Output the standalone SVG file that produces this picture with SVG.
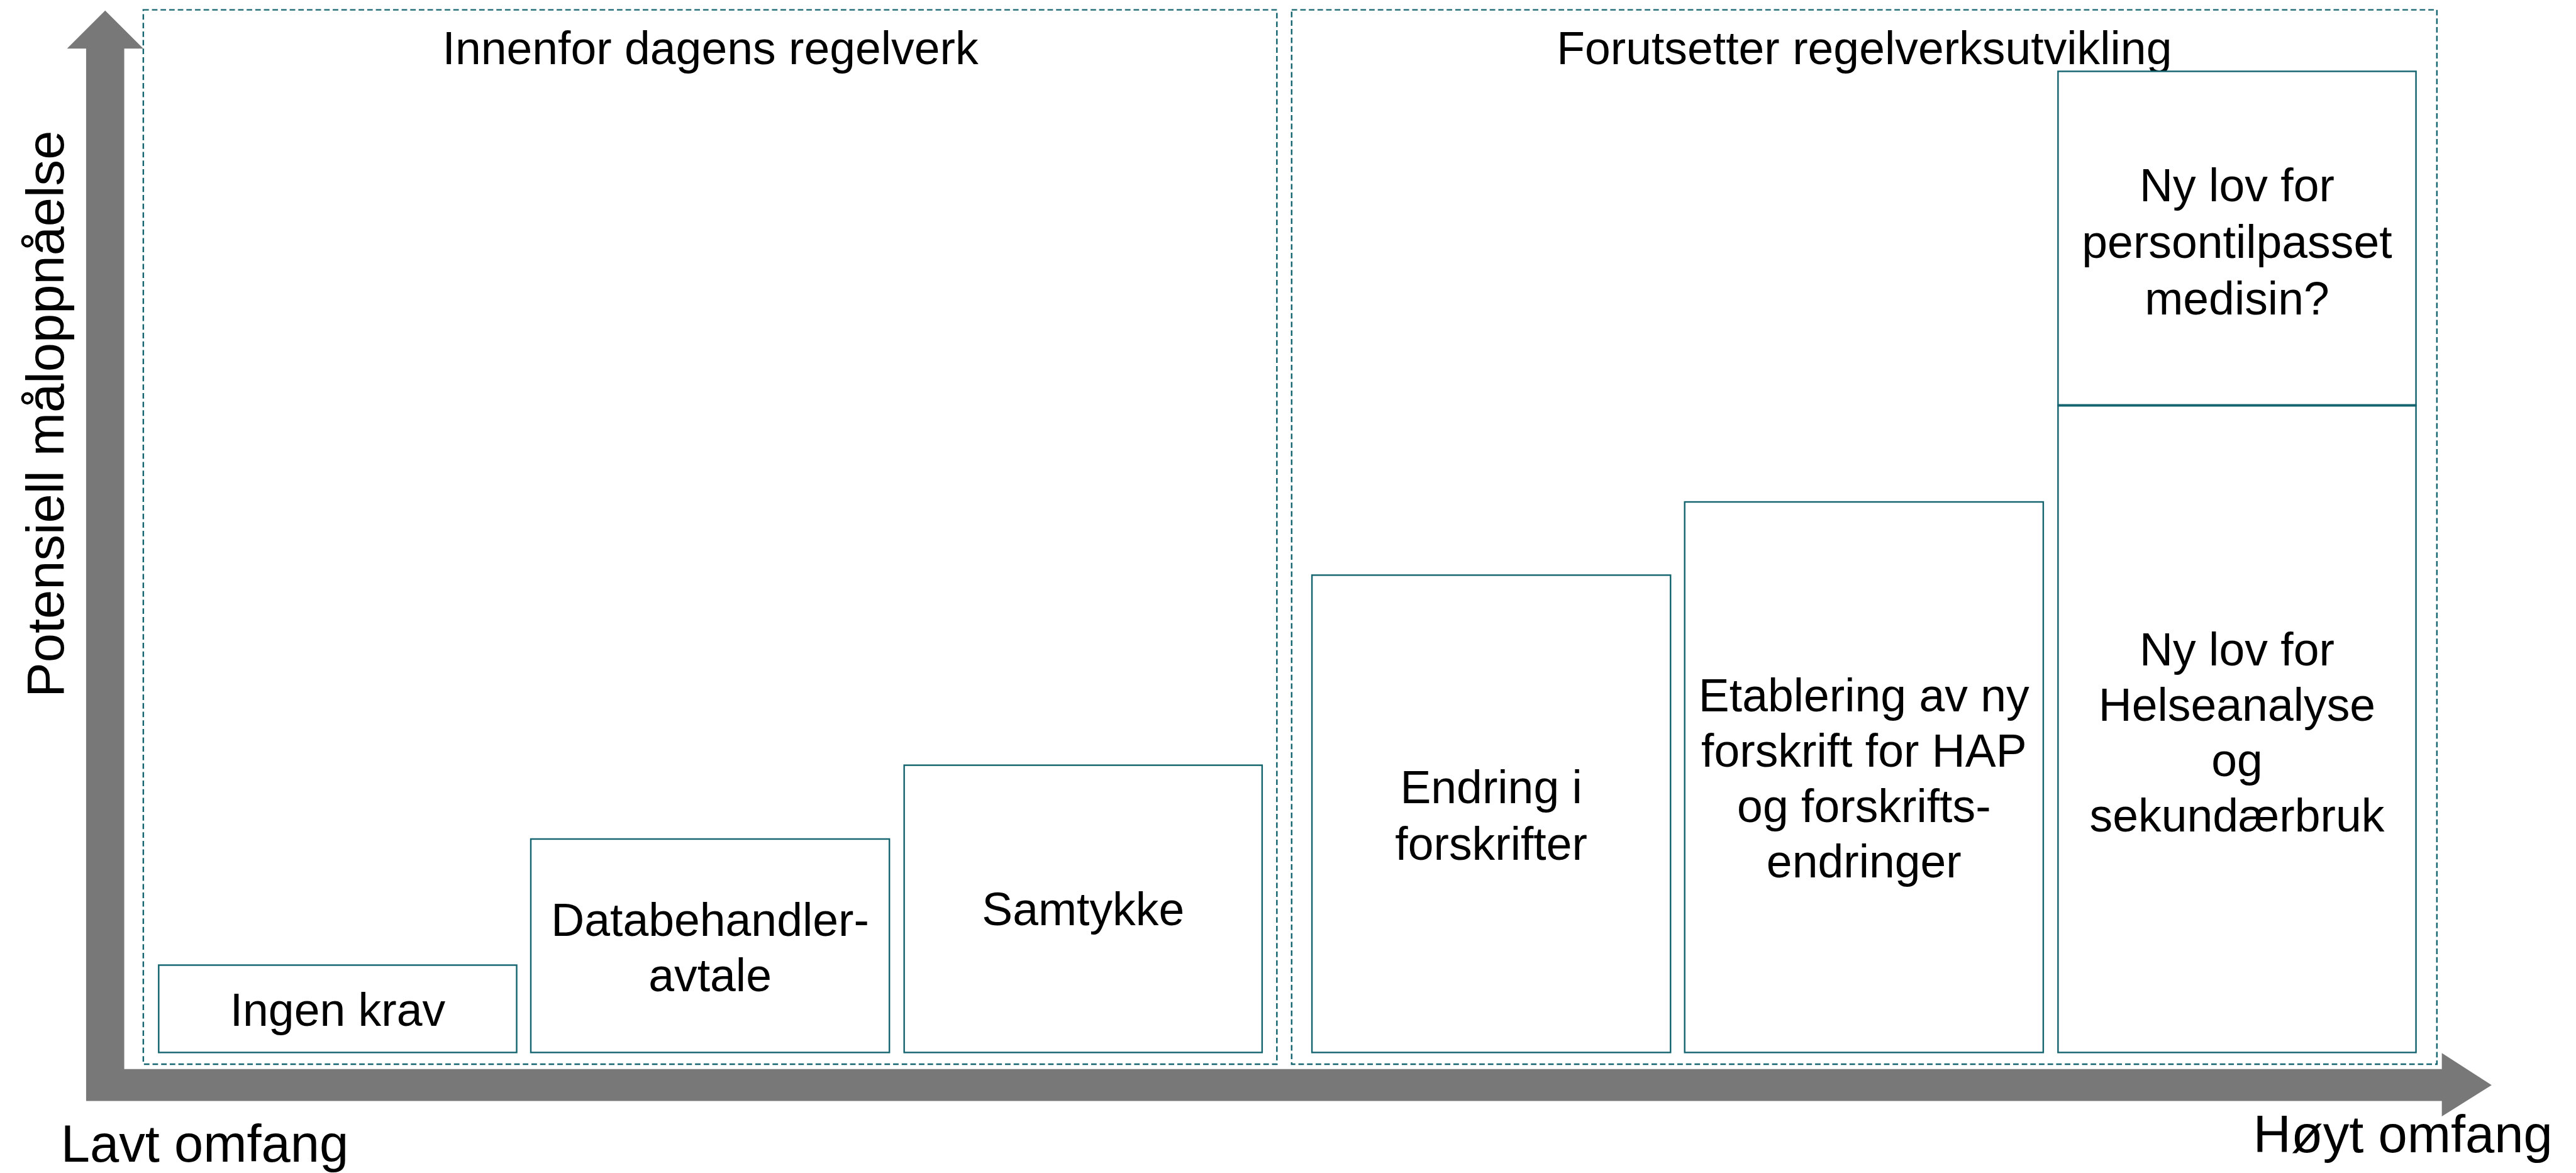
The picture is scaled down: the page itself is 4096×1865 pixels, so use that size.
<svg xmlns="http://www.w3.org/2000/svg" width="4096" height="1865" viewBox="0 0 4096 1865">
  <style>
    .zone { fill: none; stroke: #156570; stroke-width: 2.5; stroke-dasharray: 9 5; }
    .box { fill: #ffffff; stroke: #156570; stroke-width: 2.5; }
    .t { font-family: "Liberation Sans", Arial, sans-serif; font-size: 75px; fill: #000000; text-anchor: middle; }
    .axis { font-family: "Liberation Sans", Arial, sans-serif; font-size: 85px; fill: #000000; }
  </style>
  <rect width="4096" height="1865" fill="#ffffff"/>
  <g transform="scale(0.978)">
    <!-- axis arrows -->
    <g id="axes">
      <polygon fill="#787878" points="171,17 233,79 202,79 202,1738 3970,1738 3970,1712 4051,1764 3970,1815 3970,1790 140,1790 140,79 109,79"/>
      <text class="axis" x="99" y="1889">Lavt omfang</text>
      <text class="axis" x="4150" y="1873" text-anchor="end">Høyt omfang</text>
      <text class="axis" transform="translate(103,673) rotate(-90)" text-anchor="middle">Potensiell måloppnåelse</text>
    </g>

    <!-- regulatory zones -->
    <g id="zone-current">
      <rect class="zone" x="233" y="16" width="1843" height="1714"/>
      <text class="t" x="1155" y="104">Innenfor dagens regelverk</text>
    </g>
    <g id="zone-future">
      <rect class="zone" x="2100" y="16" width="1862" height="1714"/>
      <text class="t" x="3031" y="104">Forutsetter regelverksutvikling</text>
    </g>

    <!-- measures -->
    <g id="ingen-krav">
      <rect class="box" x="258" y="1569" width="582" height="142"/>
      <text class="t" x="549" y="1668">Ingen krav</text>
    </g>
    <g id="databehandleravtale">
      <rect class="box" x="863" y="1364" width="583" height="347"/>
      <text class="t" x="1154.5" y="1521">Databehandler-<tspan x="1154.5" dy="90">avtale</tspan></text>
    </g>
    <g id="samtykke">
      <rect class="box" x="1470" y="1244" width="582" height="467"/>
      <text class="t" x="1761" y="1504">Samtykke</text>
    </g>
    <g id="endring-forskrifter">
      <rect class="box" x="2133" y="935" width="583" height="776"/>
      <text class="t" x="2424.5" y="1306">Endring i<tspan x="2424.5" dy="92">forskrifter</tspan></text>
    </g>
    <g id="ny-forskrift-hap">
      <rect class="box" x="2739" y="816" width="583" height="895"/>
      <text class="t" x="3030.5" y="1156">Etablering av ny<tspan x="3030.5" dy="90">forskrift for HAP</tspan><tspan x="3030.5" dy="90">og forskrifts-</tspan><tspan x="3030.5" dy="90">endringer</tspan></text>
    </g>
    <g id="ny-lov-helseanalyse">
      <rect class="box" x="3346" y="659" width="582" height="1052"/>
      <text class="t" x="3637" y="1082">Ny lov for<tspan x="3637" dy="90">Helseanalyse</tspan><tspan x="3637" dy="90">og</tspan><tspan x="3637" dy="90">sekundærbruk</tspan></text>
    </g>
    <g id="ny-lov-persontilpasset">
      <rect class="box" x="3346" y="116" width="582" height="543"/>
      <line x1="3346" y1="659" x2="3928" y2="659" stroke="#156570" stroke-width="4"/>
      <text class="t" x="3637" y="327">Ny lov for<tspan x="3637" dy="92">persontilpasset</tspan><tspan x="3637" dy="92">medisin?</tspan></text>
    </g>
  </g>
</svg>
